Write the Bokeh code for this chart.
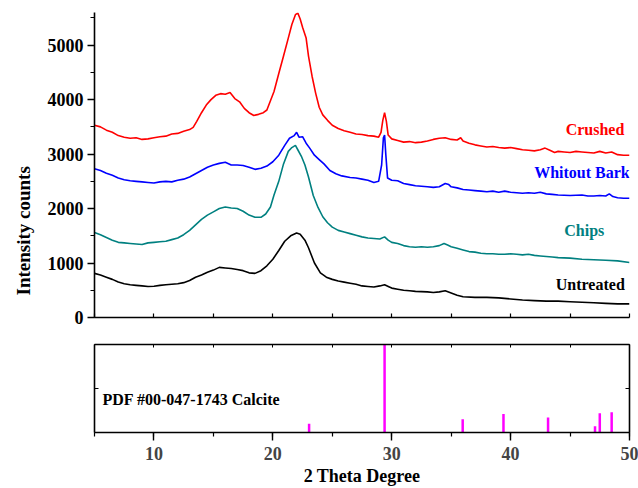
import numpy as np
from bokeh.plotting import figure
from bokeh.models import Range1d, LinearAxis, Label, Title, SingleIntervalTicker, FixedTicker
from bokeh.layouts import column
from bokeh.embed import file_html
from bokeh.resources import INLINE

FONT = "Liberation Serif"

# ---- data ----
crushed_x = [5.0, 5.5, 6.0, 6.5, 7.0, 7.5, 8.0, 8.5, 9.0, 9.5, 10.0, 10.5, 11.0, 11.5, 12.0, 12.5, 13.0, 13.3, 13.6, 14.0,
             14.4, 14.8, 15.2, 15.6, 16.0, 16.4, 16.8, 17.2, 17.6, 18.0, 18.4, 18.8, 19.2, 19.5, 19.8, 20.1, 20.5, 20.9,
             21.3, 21.6, 21.9, 22.1, 22.3, 22.5, 22.8, 23.0, 23.3, 23.6, 23.9, 24.2, 24.6, 25.0, 25.5, 26.0, 26.5, 27.0,
             27.5, 28.0, 28.5, 28.9, 29.1, 29.25, 29.4, 29.55, 29.7, 30.0, 30.5, 31.0, 31.5, 32.0, 32.5, 33.0, 33.5,
             34.0, 34.5, 35.0, 35.5, 35.8, 36.0, 36.5, 37.0, 37.5, 38.0, 38.5, 39.0, 39.5, 40.0, 40.5, 41.0, 41.5, 42.0,
             42.5, 42.9, 43.3, 43.7, 44.0, 44.5, 45.0, 45.5, 46.0, 46.5, 47.0, 47.5, 48.0, 48.5, 49.0, 49.5, 50.0]
crushed_y = [3530, 3500, 3440, 3400, 3340, 3310, 3290, 3300, 3270, 3280, 3300, 3320, 3330, 3370, 3380, 3420, 3450, 3490,
             3600, 3760, 3900, 4000, 4080, 4110, 4100, 4130, 4020, 3960, 3840, 3760, 3710, 3730, 3760, 3810, 3980, 4150,
             4480, 4800, 5130, 5380, 5560, 5590, 5480, 5330, 5130, 4800, 4430, 4120, 3860, 3720, 3620, 3530, 3470, 3430,
             3400, 3370, 3360, 3340, 3330, 3310, 3400, 3620, 3760, 3600, 3350, 3280, 3250, 3220, 3230, 3210, 3220, 3240,
             3270, 3290, 3300, 3270, 3260, 3300, 3240, 3200, 3170, 3150, 3130, 3140, 3120, 3110, 3120, 3100, 3080, 3070,
             3060, 3080, 3110, 3070, 3030, 3050, 3040, 3030, 3050, 3040, 3030, 3020, 3050, 3020, 3040, 2990, 2980, 2980]

bark_x = [5.0, 5.5, 6.0, 6.5, 7.0, 7.5, 8.0, 8.5, 9.0, 9.5, 10.0, 10.5, 11.0, 11.5, 12.0, 12.5, 13.0, 13.5, 14.0, 14.5,
          15.0, 15.5, 16.0, 16.5, 17.0, 17.5, 18.0, 18.5, 19.0, 19.5, 20.0, 20.5, 21.0, 21.4, 21.8, 22.0, 22.2, 22.5,
          22.8, 23.1, 23.5, 23.9, 24.3, 24.8, 25.3, 25.8, 26.5, 27.0, 27.5, 28.0, 28.5, 28.9, 29.15, 29.3, 29.4, 29.5,
          29.65, 30.0, 30.5, 31.0, 31.5, 32.0, 32.5, 33.0, 33.5, 34.0, 34.5, 34.8, 35.0, 35.5, 36.0, 36.5, 37.0, 37.5,
          38.0, 38.5, 39.0, 39.5, 40.0, 40.5, 41.0, 41.5, 42.0, 42.5, 43.0, 43.5, 44.0, 45.0, 46.0, 46.5, 47.0, 47.5,
          48.0, 48.3, 48.6, 49.0, 49.5, 50.0]
bark_y = [2730, 2700, 2650, 2610, 2560, 2530, 2510, 2500, 2490, 2480, 2470, 2490, 2500, 2490, 2520, 2540, 2580, 2640,
          2700, 2760, 2800, 2830, 2850, 2800, 2800, 2790, 2760, 2720, 2740, 2780, 2860, 2980, 3160, 3290, 3340, 3400,
          3310, 3320, 3200, 3110, 2980, 2900, 2820, 2700, 2640, 2600, 2570, 2560, 2540, 2520, 2480, 2500, 2800, 3300,
          3350, 3000, 2560, 2520, 2510, 2460, 2440, 2420, 2410, 2400, 2390, 2400, 2460, 2440, 2400, 2380, 2350, 2340,
          2330, 2320, 2310, 2320, 2300, 2320, 2300, 2290, 2280, 2290, 2280, 2300, 2270, 2260, 2250, 2240, 2250, 2230,
          2230, 2240, 2230, 2270, 2220, 2200, 2190, 2190]

chips_x = [5.0, 5.5, 6.0, 6.5, 7.0, 7.5, 8.0, 8.5, 9.0, 9.5, 10.0, 10.5, 11.0, 11.5, 12.0, 12.5, 13.0, 13.5, 14.0, 14.5,
           15.0, 15.5, 16.0, 16.5, 17.0, 17.5, 18.0, 18.5, 19.0, 19.4, 19.8, 20.1, 20.5, 20.9, 21.3, 21.6, 21.9, 22.1,
           22.4, 22.7, 23.0, 23.4, 23.8, 24.2, 24.6, 25.0, 25.5, 26.0, 26.5, 27.0, 27.5, 28.0, 28.5, 29.0, 29.4, 29.7,
           30.0, 30.5, 31.0, 31.5, 32.0, 32.5, 33.0, 33.5, 34.0, 34.4, 34.7, 35.0, 35.5, 36.0, 36.5, 37.0, 37.5, 38.0,
           38.5, 39.0, 39.5, 40.0, 40.5, 41.0, 41.5, 42.0, 42.5, 43.0, 43.5, 44.0, 45.0, 46.0, 47.0, 48.0, 49.0, 50.0]
chips_y = [1560, 1520, 1470, 1420, 1380, 1370, 1360, 1350, 1340, 1370, 1380, 1390, 1400, 1430, 1460, 1520, 1600, 1700,
           1800, 1880, 1940, 2000, 2030, 2010, 2000, 1950, 1880, 1840, 1840, 1900, 2030, 2250, 2500, 2820, 3050, 3120,
           3160, 3080, 2960, 2800, 2580, 2240, 2020, 1850, 1740, 1660, 1600, 1570, 1540, 1510, 1480, 1460, 1450, 1440,
           1480, 1420, 1380, 1360, 1320, 1300, 1290, 1300, 1290, 1300, 1320, 1360, 1330, 1300, 1270, 1240, 1210, 1200,
           1180, 1170, 1170, 1160, 1160, 1170, 1160, 1150, 1160, 1140, 1130, 1120, 1110, 1100, 1090, 1070, 1060, 1050,
           1040, 1010]

untreated_x = [5.0, 5.5, 6.0, 6.5, 7.0, 7.5, 8.0, 8.5, 9.0, 9.5, 10.0, 10.5, 11.0, 11.5, 12.0, 12.5, 13.0, 13.5, 14.0,
               14.5, 15.0, 15.5, 16.0, 16.5, 17.0, 17.5, 18.0, 18.5, 19.0, 19.5, 20.0, 20.5, 21.0, 21.5, 22.0, 22.3,
               22.7, 23.0, 23.5, 24.0, 24.5, 25.0, 25.5, 26.0, 26.5, 27.0, 27.5, 28.0, 28.5, 29.0, 29.4, 29.8, 30.0,
               30.5, 31.0, 31.5, 32.0, 33.0, 33.5, 34.0, 34.5, 35.0, 35.5, 36.0, 37.0, 38.0, 39.0, 40.0, 41.0, 42.0,
               43.0, 44.0, 45.0, 46.0, 47.0, 48.0, 49.0, 50.0]
untreated_y = [810, 780, 740, 700, 650, 620, 600, 590, 580, 570, 575, 590, 600, 610, 620, 640, 680, 740, 780, 830, 870,
               920, 910, 900, 880, 860, 820, 810, 860, 950, 1070, 1230, 1400, 1500, 1550, 1530, 1420, 1280, 1000, 820,
               740, 700, 670, 650, 630, 610, 580, 570, 560, 580, 600, 560, 540, 520, 500, 490, 480, 470, 460, 470, 490,
               450, 410, 380, 370, 370, 360, 340, 320, 310, 300, 300, 290, 280, 270, 260, 250, 250]

series_names = ["Crushed", "Whitout Bark", "Chips", "Untreated"]
series_colors = ["#FF0000", "#0000FF", "#008080", "#000000"]

calcite_2theta = [23.05, 29.4, 35.97, 39.4, 43.15, 47.1, 47.5, 48.5]
calcite_intensity = [10, 100, 15, 21, 17, 7, 22, 23]


def hide_labels(ax):
    ax.major_label_text_color = None
    ax.major_label_text_font_size = "1px"
    ax.major_label_standoff = 0


# ---- top panel ----
p1 = figure(width=638, height=327, x_range=Range1d(5, 50), y_range=Range1d(0, 5600),
            output_backend="svg", toolbar_location=None, x_axis_type=None, y_axis_type=None,
            min_border_left=93, min_border_right=9, min_border_top=12, min_border_bottom=10)
p1.outline_line_color = None
p1.background_fill_color = "white"

yax = LinearAxis(ticker=SingleIntervalTicker(interval=1000, num_minor_ticks=2))
yax.major_tick_out = 7
yax.major_tick_in = 0
yax.minor_tick_out = 4
yax.minor_tick_in = 0
yax.axis_line_width = 1.6
yax.major_tick_line_width = 1.4
yax.minor_tick_line_width = 1.2
yax.major_label_text_font = FONT
yax.major_label_text_font_style = "bold"
yax.major_label_text_font_size = "18px"
yax.major_label_text_color = "black"
yax.major_label_standoff = 4
p1.add_layout(yax, "left")

ytitle = Title(text="Intensity counts", align="left", offset=22, standoff=21,
               text_font=FONT, text_font_style="bold", text_font_size="19px", text_color="black")
p1.add_layout(ytitle, "left")

xax1 = LinearAxis(ticker=SingleIntervalTicker(interval=5, num_minor_ticks=0))
xax1.major_tick_in = 4
xax1.major_tick_out = 0
xax1.axis_line_width = 1.6
xax1.major_tick_line_width = 1.2
hide_labels(xax1)
p1.add_layout(xax1, "below")

for xs, ys, c in zip([crushed_x, bark_x, chips_x, untreated_x],
                     [crushed_y, bark_y, chips_y, untreated_y], series_colors):
    p1.line(xs, ys, line_color=c, line_width=1.6)

label_pos = [(47.1, 3455), (46.0, 2660), (46.2, 1590), (46.7, 610)]
for name, c, (lx, ly) in zip(series_names, series_colors, label_pos):
    p1.add_layout(Label(x=lx, y=ly, text=name, text_align="center", text_baseline="middle",
                        text_font=FONT, text_font_style="bold", text_font_size="16px", text_color=c))

# ---- bottom panel ----
p2 = figure(width=638, height=161, x_range=Range1d(5, 50), y_range=Range1d(0, 100),
            output_backend="svg", toolbar_location=None, x_axis_type=None, y_axis_type=None,
            min_border_left=93, min_border_right=9, min_border_top=17, min_border_bottom=54)
p2.outline_line_color = None

bax = LinearAxis(ticker=SingleIntervalTicker(interval=10, num_minor_ticks=2))
bax.major_tick_out = 8
bax.major_tick_in = 0
bax.minor_tick_out = 4
bax.minor_tick_in = 0
bax.axis_line_width = 1.6
bax.major_tick_line_width = 1.4
bax.minor_tick_line_width = 1.2
bax.major_label_text_font = FONT
bax.major_label_text_font_style = "bold"
bax.major_label_text_font_size = "18px"
bax.major_label_standoff = 6
bax.axis_label = "2 Theta Degree"
bax.axis_label_standoff = 3
bax.axis_label_text_font = FONT
bax.axis_label_text_font_style = "bold"
bax.axis_label_text_font_size = "18px"
bax.axis_label_text_color = "black"
p2.add_layout(bax, "below")

tax = LinearAxis(ticker=SingleIntervalTicker(interval=5, num_minor_ticks=0))
tax.major_tick_in = 3
tax.major_tick_out = 0
tax.axis_line_width = 1.6
hide_labels(tax)
p2.add_layout(tax, "above")

for side in ["left", "right"]:
    ax = LinearAxis(ticker=FixedTicker(ticks=[0, 50, 100]))
    ax.major_tick_in = 4
    ax.major_tick_out = 0
    ax.axis_line_width = 1.6
    hide_labels(ax)
    p2.add_layout(ax, side)

p2.segment(x0=calcite_2theta, y0=[0] * len(calcite_2theta), x1=calcite_2theta, y1=calcite_intensity,
           line_color="#FF00FF", line_width=2.5)

p2.add_layout(Label(x=5.67, y=38, text="PDF #00-047-1743 Calcite", text_align="left", text_baseline="middle",
                    text_font=FONT, text_font_style="bold", text_font_size="16px", text_color="black"))

layout = column(p1, p2, spacing=0)
open("out.html", "w").write(file_html(layout, INLINE))
